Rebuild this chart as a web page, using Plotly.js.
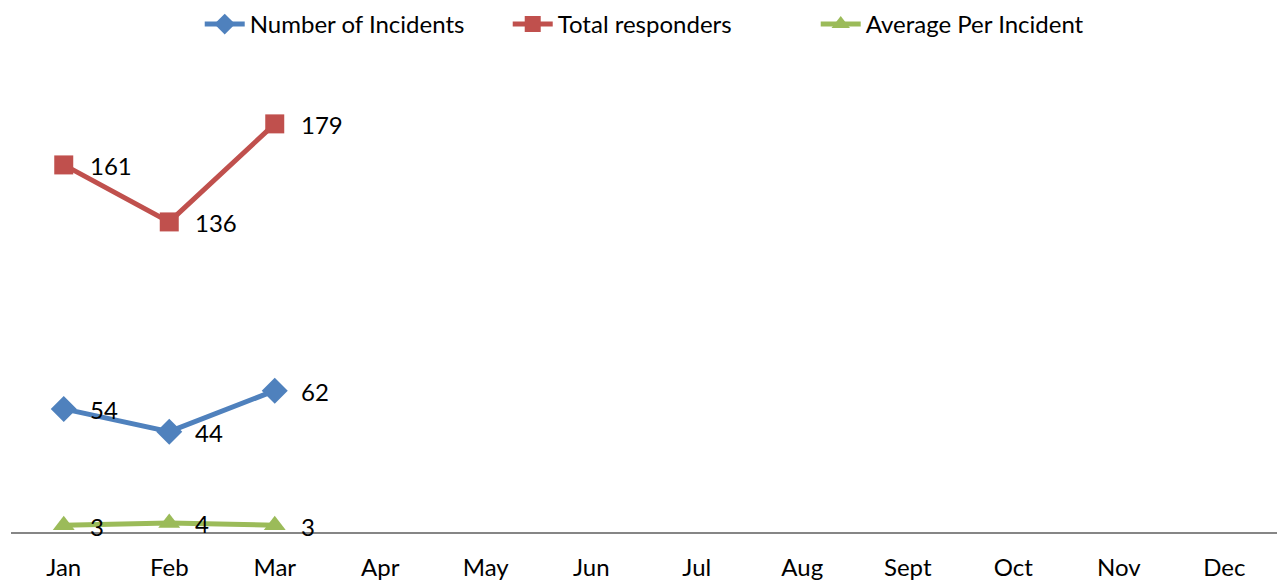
<!DOCTYPE html>
<html>
<head>
<meta charset="utf-8">
<script src="https://cdn.plot.ly/plotly-3.0.1.min.js"></script>
<style>html,body{margin:0;padding:0;background:#fff;}#chart{width:1279px;height:582px;}</style>
</head>
<body>
<div id="chart"></div>
<script>
var months = ["Jan","Feb","Mar","Apr","May","Jun","Jul","Aug","Sept","Oct","Nov","Dec"];
var dataMonths = ["Jan","Feb","Mar"];
var incidents = [54, 44, 62];
var responders = [161, 136, 179];
var averagePer = [3, 4, 3];

var fontFam = "Lato, 'Open Sans', sans-serif";
function series(name, y, color, symbol, size) {
  return {
    type: "scatter", mode: "lines+markers", name: name,
    x: dataMonths, y: y,
    line: {color: color, width: 5},
    marker: {color: color, symbol: symbol, size: size},
    cliponaxis: false
  };
}
var traces = [
  series("Number of Incidents", incidents, "#4F81BD", "diamond", 20),
  series("Total responders", responders, "#C0504D", "square", 19),
  series("Average Per Incident", averagePer, "#9BBB59", "triangle-up", 19)
];
var annotations = [];
[incidents, responders, averagePer].forEach(function (arr) {
  arr.forEach(function (v, i) {
    annotations.push({x: dataMonths[i], y: v, xref: "x", yref: "y", text: String(v),
      showarrow: false, xanchor: "left", yanchor: "middle", xshift: 24, yshift: -1,
      font: {family: fontFam, size: 24, color: "#000"}});
  });
});
var layout = {
  width: 1279, height: 582,
  margin: {l: 11, r: 2, t: 72, b: 50},
  paper_bgcolor: "#fff", plot_bgcolor: "#fff",
  font: {family: fontFam, size: 24, color: "#000"},
  showlegend: true,
  legend: {orientation: "h", x: 0.514, xanchor: "center", y: 1.113, yanchor: "middle",
           font: {family: fontFam, size: 24, color: "#000"}, itemwidth: 40,
           entrywidthmode: "pixels", entrywidth: 253},
  annotations: annotations,
  xaxis: {type: "category", categoryorder: "array", categoryarray: months,
          range: [-0.5, 11.5], showgrid: false, zeroline: false,
          showline: true, linecolor: "#868686", linewidth: 1.5,
          ticks: "", ticklabelstandoff: 14,
          tickfont: {family: fontFam, size: 24, color: "#000"}, fixedrange: true},
  yaxis: {range: [0, 200], visible: false, showgrid: false, zeroline: false, fixedrange: true}
};
Plotly.newPlot("chart", traces, layout, {displayModeBar: false, staticPlot: true});
</script>
</body>
</html>
